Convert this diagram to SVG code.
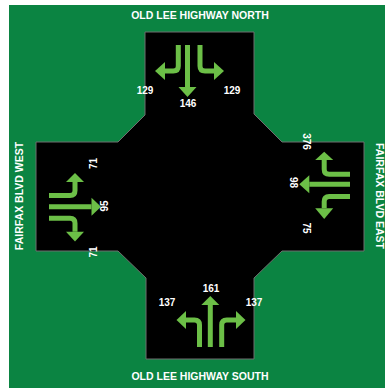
<svg xmlns="http://www.w3.org/2000/svg" width="385" height="388" viewBox="0 0 385 388">
<style>
.lbl{font-family:"Liberation Sans",Arial,sans-serif;font-weight:bold;font-size:10px;fill:#ffffff;text-anchor:middle}
.ttl{font-family:"Liberation Sans",Arial,sans-serif;font-weight:bold;font-size:10.5px;fill:#ffffff;text-anchor:middle}
.stem{fill:none;stroke:#6cbf47;stroke-width:5}
.head{fill:#6cbf47}
</style>
<rect x="0" y="0" width="385" height="388" fill="#ffffff"/>
<rect x="9" y="5" width="376" height="383" fill="#0b8442"/>
<g id="intersection">
<polygon points="145,32 254,32 254,114 282,142 364,142 364,251 282,251 254,278 254,359 146,359 146,278 118,251 36,251 36,142 118,142 145,115" fill="#000000" stroke="#6e6e6e" stroke-width="1"/>
</g>
<g id="titles">
<text class="ttl" x="200" y="19">OLD LEE HIGHWAY NORTH</text>
<text class="ttl" x="200" y="380">OLD LEE HIGHWAY SOUTH</text>
<text class="ttl" transform="translate(23,196) rotate(-90)">FAIRFAX BLVD WEST</text>
<text class="ttl" transform="translate(375.5,196) rotate(90)">FAIRFAX BLVD EAST</text>
</g>
<g id="north-approach">
<path class="stem" d="M178.3,45 V66 Q178.3,71 173.3,71 H165"/>
<polygon class="head" points="155,71 165,62 165,80"/>
<path class="stem" d="M187.5,45 V87"/>
<polygon class="head" points="178.5,87 196.5,87 187.5,97"/>
<path class="stem" d="M200,45 V66 Q200,71 205,71 H214"/>
<polygon class="head" points="214,62 214,80 224,71"/>
<text class="lbl" x="145" y="93.5">129</text>
<text class="lbl" x="188" y="107">146</text>
<text class="lbl" x="232" y="93.5">129</text>
</g>
<g id="south-approach">
<path class="stem" d="M199.5,347 V325 Q199.5,320 194.5,320 H186"/>
<polygon class="head" points="186,311 186,329 176.5,320"/>
<path class="stem" d="M210.3,347 V305"/>
<polygon class="head" points="201.3,305 219.3,305 210.3,296"/>
<path class="stem" d="M221.7,347 V325 Q221.7,320 226.7,320 H236"/>
<polygon class="head" points="236,311 236,329 245.5,320"/>
<text class="lbl" x="167" y="306">137</text>
<text class="lbl" x="211" y="292">161</text>
<text class="lbl" x="254" y="306">137</text>
</g>
<g id="west-approach">
<path class="stem" d="M49,195.5 H70 Q75,195.5 75,190.5 V182"/>
<polygon class="head" points="66,182 84,182 75,173"/>
<path class="stem" d="M49,206.7 H91.5"/>
<polygon class="head" points="91.5,197.7 91.5,215.7 101,206.7"/>
<path class="stem" d="M49,218.2 H70 Q75,218.2 75,223.2 V231.7"/>
<polygon class="head" points="66,231.7 84,231.7 75,241.5"/>
<text class="lbl" transform="translate(97,163.5) rotate(-90)">71</text>
<text class="lbl" transform="translate(108,206) rotate(-90)">95</text>
<text class="lbl" transform="translate(97,252) rotate(-90)">71</text>
</g>
<g id="east-approach">
<path class="stem" d="M350,174.2 H329.2 Q324.2,174.2 324.2,169.2 V160"/>
<polygon class="head" points="315.2,160 333.2,160 324.2,151.7"/>
<path class="stem" d="M350,184.2 H309.3"/>
<polygon class="head" points="309.3,175.2 309.3,193.2 299.3,184.2"/>
<path class="stem" d="M350,196.5 H329.2 Q324.2,196.5 324.2,201.5 V208.3"/>
<polygon class="head" points="315.2,208.3 333.2,208.3 324.2,219"/>
<text class="lbl" transform="translate(303.3,141.5) rotate(90)">376</text>
<text class="lbl" transform="translate(290,182.5) rotate(90)">98</text>
<text class="lbl" transform="translate(303,228) rotate(90)">75</text>
</g>
</svg>
